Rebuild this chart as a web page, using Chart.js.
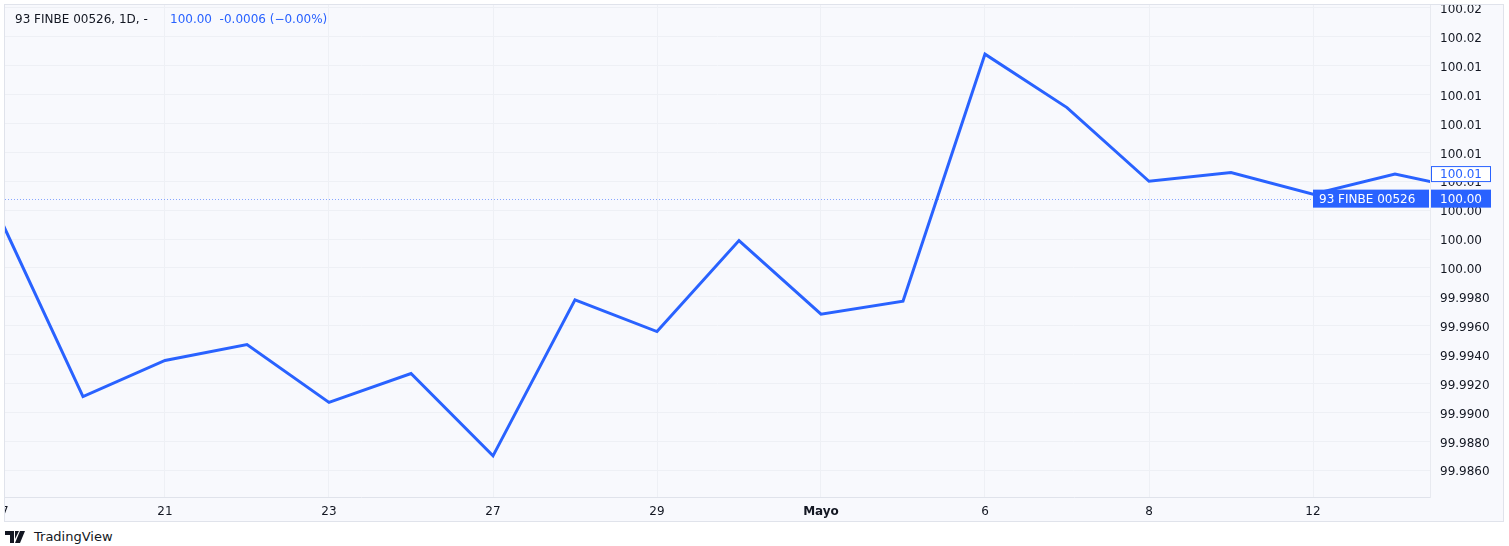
<!DOCTYPE html>
<html>
<head>
<meta charset="utf-8">
<script src="https://cdn.jsdelivr.net/npm/chart.js@4"></script>
<style>
  body { margin: 0; background: #fff; font-family: "DejaVu Sans", sans-serif; }
  #box { position: absolute; left: 4px; top: 4px; width: 1498px; height: 516px; border: 1px solid #e0e3eb; background: #f8f9fd; }
  #brand { position: absolute; left: 5px; top: 529px; font-size: 13px; color: #131722; display: flex; align-items: center; }
  #brand svg { margin-right: 6px; }
</style>
</head>
<body>
<div id="box"><canvas id="chart" width="1498" height="516"></canvas></div>
<div id="brand">
  <svg width="23" height="12" viewBox="0 0 23 12"><path d="M0 0h9v12H5V4H0z M10 0h4l-4 8z" fill="#131722"/><path d="M15 0h5l-5 12h-5z" fill="#131722"/></svg>
  <span>TradingView</span>
</div>
<script>
// fechas (una barra por sesión)
const dates = ['17', '18', '21', '22', '23', '24', '27', '28', '29', '30', 'Mayo', '2', '6', '7', '8', '9', '12', '13', '14'];
const closes = [100.0033, 99.9911, 99.9936, 99.9947, 99.9907, 99.9927, 99.9870, 99.9978, 99.9956, 100.0019,
                99.9968, 99.9977, 100.0148, 100.0111, 100.0060, 100.0066, 100.0051, 100.0065, 100.0053];
const xTickIdx = [0, 2, 4, 6, 8, 10, 12, 14, 16];
const yTicks = [99.986, 99.988, 99.990, 99.992, 99.994, 99.996, 99.998, 100.000, 100.002,
                100.004, 100.006, 100.008, 100.010, 100.012, 100.014, 100.016, 100.018];
const yTickLabels = ['99.9860', '99.9880', '99.9900', '99.9920', '99.9940', '99.9960', '99.9980', '100.00', '100.00',
                     '100.00', '100.01', '100.01', '100.01', '100.01', '100.01', '100.02', '100.02'];
const symbol = '93 FINBE 00526';
const lastLine = 100.0065;   // etiqueta con borde
const lastPrice = 100.0048;  // línea de precio punteada
const legendValues = '100.00  -0.0006 (−0.00%)';

const BLUE = '#2962ff';
const FONT = '"DejaVu Sans", sans-serif';

const overlay = {
  id: 'overlay',
  beforeDatasetsDraw(chart) {
    const {ctx, chartArea, scales} = chart;
    const y = Math.round(scales.y.getPixelForValue(lastPrice)) + 0.5;
    ctx.save();
    ctx.strokeStyle = 'rgba(41, 98, 255, 0.55)';
    ctx.lineWidth = 1;
    ctx.setLineDash([1, 2]);
    ctx.beginPath();
    ctx.moveTo(chartArea.left, y);
    ctx.lineTo(chartArea.right, y);
    ctx.stroke();
    ctx.restore();
  },
  afterDraw(chart) {
    const {ctx, chartArea, scales} = chart;
    const right = chartArea.right;
    ctx.save();
    ctx.font = '12px ' + FONT;
    ctx.textBaseline = 'middle';
    // leyenda
    ctx.fillStyle = '#131722';
    ctx.textAlign = 'left';
    ctx.fillText(symbol + ', 1D, -', 10, 15);
    ctx.fillStyle = BLUE;
    ctx.fillText(legendValues, 165, 15);

    // etiqueta del último valor (borde)
    let y = scales.y.getPixelForValue(lastLine);
    ctx.fillStyle = '#ffffff';
    ctx.fillRect(right + 1, y - 8, 60, 16);
    ctx.strokeStyle = BLUE;
    ctx.lineWidth = 1;
    ctx.strokeRect(right + 1.5, y - 7.5, 59, 15);
    ctx.fillStyle = BLUE;
    ctx.fillText('100.01', right + 10, y + 1);

    // etiqueta del precio
    y = scales.y.getPixelForValue(lastPrice);
    ctx.fillStyle = BLUE;
    ctx.fillRect(right + 1, y - 9, 60, 18);
    ctx.fillRect(right - 117, y - 9, 116, 18);
    ctx.fillStyle = '#ffffff';
    ctx.fillText('100.00', right + 10, y + 1);
    ctx.fillText(symbol, right - 111, y + 1);
    ctx.restore();
  }
};

new Chart(document.getElementById('chart'), {
  type: 'line',
  data: {
    datasets: [{
      data: dates.map((d, i) => ({x: i, y: closes[i]})),
      borderColor: BLUE,
      borderWidth: 3,
      pointRadius: 0,
      tension: 0
    }]
  },
  options: {
    responsive: false,
    animation: false,
    layout: { padding: 0 },
    plugins: { legend: { display: false }, tooltip: { enabled: false } },
    scales: {
      x: {
        type: 'linear',
        min: 4 / 82,
        max: 1429 / 82,
        grid: { color: '#eef0f5', drawTicks: false },
        border: { color: '#e0e3eb' },
        afterBuildTicks: s => { s.ticks = xTickIdx.map(v => ({value: v})); },
        afterFit: s => { s.height = 24; s.paddingLeft = 0; s.paddingRight = 0; },
        ticks: {
          autoSkip: false,
          maxRotation: 0,
          padding: 8,
          color: '#131722',
          font: ctx => ({ family: FONT, size: 12, weight: (ctx.tick && dates[ctx.tick.value] === 'Mayo') ? 'bold' : 'normal' }),
          callback: v => dates[v]
        }
      },
      y: {
        position: 'right',
        min: 100 - 229 / 14450,
        max: 100 + 263 / 14450,
        grid: { color: '#eef0f5', drawTicks: false },
        border: { color: '#e8eaf0' },
        afterBuildTicks: s => { s.ticks = yTicks.map(v => ({value: v})); },
        afterFit: s => { s.width = 73; s.paddingTop = 0; s.paddingBottom = 0; },
        ticks: {
          padding: 10,
          labelOffset: 2,
          color: '#131722',
          font: { family: FONT, size: 12 },
          callback: (v, i) => yTickLabels[i]
        }
      }
    }
  },
  plugins: [overlay]
});
</script>
</body>
</html>
